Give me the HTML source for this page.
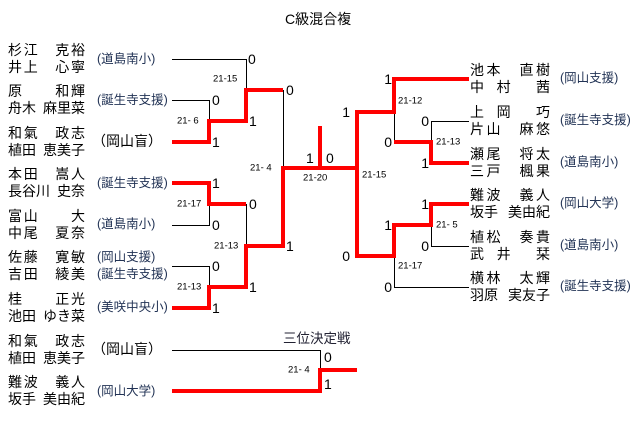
<!DOCTYPE html>
<html><head><meta charset="utf-8"><style>
body{margin:0;width:640px;height:441px;background:#fff;position:relative;overflow:hidden;font-family:"Liberation Sans","Noto Sans CJK JP",sans-serif;}
.n{position:absolute;width:77px;font-size:14px;line-height:17px;color:#000;}
.n div{display:flex;justify-content:space-between;height:17px;white-space:nowrap;}
.n span{display:inline-block;width:14px;text-align:center;}
.r{width:80px;}
.s{position:absolute;font-size:12.5px;line-height:17px;color:#223355;white-space:nowrap;}
.t{position:absolute;font-size:14px;}
svg{position:absolute;left:0;top:0;}
</style></head><body>
<div class="t" style="left:285px;top:9px;">C級混合複</div>

<div class="n" style="left:8px;top:42px"><div><span>杉</span><span>江</span><span> </span><span>克</span><span>裕</span></div><div><span>井</span><span>上</span><span> </span><span>心</span><span>寧</span></div></div>
<div class="s" style="left:97px;top:51px">(道島南小)</div>
<div class="n" style="left:8px;top:83px"><div><span>原</span><span> </span><span> </span><span>和</span><span>輝</span></div><div><span>舟</span><span>木</span><span> </span><span>麻</span><span>里</span><span>菜</span></div></div>
<div class="s" style="left:97px;top:92px">(誕生寺支援)</div>
<div class="n" style="left:8px;top:125px"><div><span>和</span><span>氣</span><span> </span><span>政</span><span>志</span></div><div><span>植</span><span>田</span><span> </span><span>恵</span><span>美</span><span>子</span></div></div>
<div class="s" style="left:92px;top:133px;font-size:14px;color:#000">（岡山盲）</div>
<div class="n" style="left:8px;top:166px"><div><span>本</span><span>田</span><span> </span><span>嵩</span><span>人</span></div><div><span>長</span><span>谷</span><span>川</span><span> </span><span>史</span><span>奈</span></div></div>
<div class="s" style="left:97px;top:175px">(誕生寺支援)</div>
<div class="n" style="left:8px;top:208px"><div><span>富</span><span>山</span><span> </span><span> </span><span>大</span></div><div><span>中</span><span>尾</span><span> </span><span>夏</span><span>奈</span></div></div>
<div class="s" style="left:97px;top:216px">(道島南小)</div>
<div class="n" style="left:8px;top:249px"><div><span>佐</span><span>藤</span><span> </span><span>寛</span><span>敏</span></div><div><span>吉</span><span>田</span><span> </span><span>綾</span><span>美</span></div></div>
<div class="s" style="left:97px;top:249px">(岡山支援)</div>
<div class="s" style="left:97px;top:266px">(誕生寺支援)</div>
<div class="n" style="left:8px;top:291px"><div><span>桂</span><span> </span><span> </span><span>正</span><span>光</span></div><div><span>池</span><span>田</span><span> </span><span>ゆ</span><span>き</span><span>菜</span></div></div>
<div class="s" style="left:97px;top:299px">(美咲中央小)</div>
<div class="n" style="left:8px;top:333px"><div><span>和</span><span>氣</span><span> </span><span>政</span><span>志</span></div><div><span>植</span><span>田</span><span> </span><span>恵</span><span>美</span><span>子</span></div></div>
<div class="s" style="left:92px;top:341px;font-size:14px;color:#000">（岡山盲）</div>
<div class="n" style="left:8px;top:374px"><div><span>難</span><span>波</span><span> </span><span>義</span><span>人</span></div><div><span>坂</span><span>手</span><span> </span><span>美</span><span>由</span><span>紀</span></div></div>
<div class="s" style="left:97px;top:383px">(岡山大学)</div>

<div class="n r" style="left:470px;top:62px"><div><span>池</span><span>本</span><span> </span><span>直</span><span>樹</span></div><div><span>中</span><span> </span><span>村</span><span> </span><span> </span><span>茜</span></div></div>
<div class="s" style="left:560px;top:70px">(岡山支援)</div>
<div class="n r" style="left:470px;top:104px"><div><span>上</span><span> </span><span>岡</span><span> </span><span> </span><span>巧</span></div><div><span>片</span><span>山</span><span> </span><span>麻</span><span>悠</span></div></div>
<div class="s" style="left:560px;top:112px">(誕生寺支援)</div>
<div class="n r" style="left:470px;top:146px"><div><span>瀬</span><span>尾</span><span> </span><span>将</span><span>太</span></div><div><span>三</span><span>戸</span><span> </span><span>楓</span><span>果</span></div></div>
<div class="s" style="left:560px;top:154px">(道島南小)</div>
<div class="n r" style="left:470px;top:187px"><div><span>難</span><span>波</span><span> </span><span>義</span><span>人</span></div><div><span>坂</span><span>手</span><span> </span><span>美</span><span>由</span><span>紀</span></div></div>
<div class="s" style="left:560px;top:195px">(岡山大学)</div>
<div class="n r" style="left:470px;top:229px"><div><span>植</span><span>松</span><span> </span><span>奏</span><span>貴</span></div><div><span>武</span><span> </span><span>井</span><span> </span><span> </span><span>栞</span></div></div>
<div class="s" style="left:560px;top:237px">(道島南小)</div>
<div class="n r" style="left:470px;top:270px"><div><span>横</span><span>林</span><span> </span><span>太</span><span>輝</span></div><div><span>羽</span><span>原</span><span> </span><span>実</span><span>友</span><span>子</span></div></div>
<div class="s" style="left:560px;top:278px">(誕生寺支援)</div>

<svg width="640" height="441" viewBox="0 0 640 441">
<g fill="none" stroke="#000" stroke-width="1">
<path d="M172,59.5H246.5V90M172,100.5H209.5V121M283.5,90V168M172,225.5H209.5V204M246.5,204V246M172,266.5H209.5V287"/>
<path d="M320,168.5H357.5V256"/>
<path d="M394.5,112V142M431.5,142V121.5H469M431.5,225V246.5H469M394.5,256V287.5H469"/>
<path d="M172,350.5H320.5V370"/>
</g>
<g fill="none" stroke="#f00" stroke-width="4" stroke-linejoin="miter" stroke-linecap="butt">
<path d="M172,142H209V121H246V90H283"/>
<path d="M172,183H209V204H246"/>
<path d="M172,308H209V287H246V246H283V168H320V126"/>
<path d="M320,168H357V112H394V79H469"/>
<path d="M394,142H431V163H469"/>
<path d="M357,166V256H394V225H431V204H469"/>
<path d="M172,391H320V370H357"/>
</g>
<g font-family="Liberation Sans, sans-serif" font-size="14" fill="#000" dominant-baseline="central">
<text x="248" y="59">0</text><text x="212" y="100">0</text><text x="212" y="142">1</text>
<text x="249" y="121">1</text><text x="286" y="90">0</text>
<text x="212" y="183">1</text><text x="249" y="204">0</text><text x="212" y="225">0</text>
<text x="286" y="246">1</text><text x="212" y="266">0</text><text x="249" y="287">1</text><text x="212" y="308">1</text>
<text x="306" y="158">1</text><text x="326" y="158">0</text>
<text x="350" y="256" text-anchor="end">0</text><text x="350" y="112" text-anchor="end">1</text>
<text x="392" y="79" text-anchor="end">1</text><text x="392" y="142" text-anchor="end">0</text>
<text x="429" y="121" text-anchor="end">0</text><text x="429" y="163" text-anchor="end">1</text>
<text x="392" y="225" text-anchor="end">1</text><text x="392" y="287" text-anchor="end">0</text>
<text x="429" y="204" text-anchor="end">1</text><text x="429" y="246" text-anchor="end">0</text>
<text x="324" y="357">0</text><text x="324" y="384">1</text>
</g>
<g font-family="Liberation Sans, sans-serif" font-size="9.5" fill="#000" dominant-baseline="central" xml:space="preserve">
<text x="213" y="79">21-15</text><text x="177" y="121">21-  6</text><text x="250" y="168">21-  4</text>
<text x="177" y="204">21-17</text><text x="214" y="246">21-13</text><text x="177" y="287">21-13</text>
<text x="303" y="178">21-20</text><text x="362" y="175">21-15</text><text x="398" y="101">21-12</text>
<text x="436" y="142">21-13</text><text x="436" y="225">21-  5</text><text x="398" y="266">21-17</text>
<text x="288" y="370">21-  4</text>
</g>
<text x="283" y="343" font-family="Liberation Sans, Noto Sans CJK JP, sans-serif" font-size="13.5" fill="#223">三位決定戦</text>
</svg>
</body></html>
